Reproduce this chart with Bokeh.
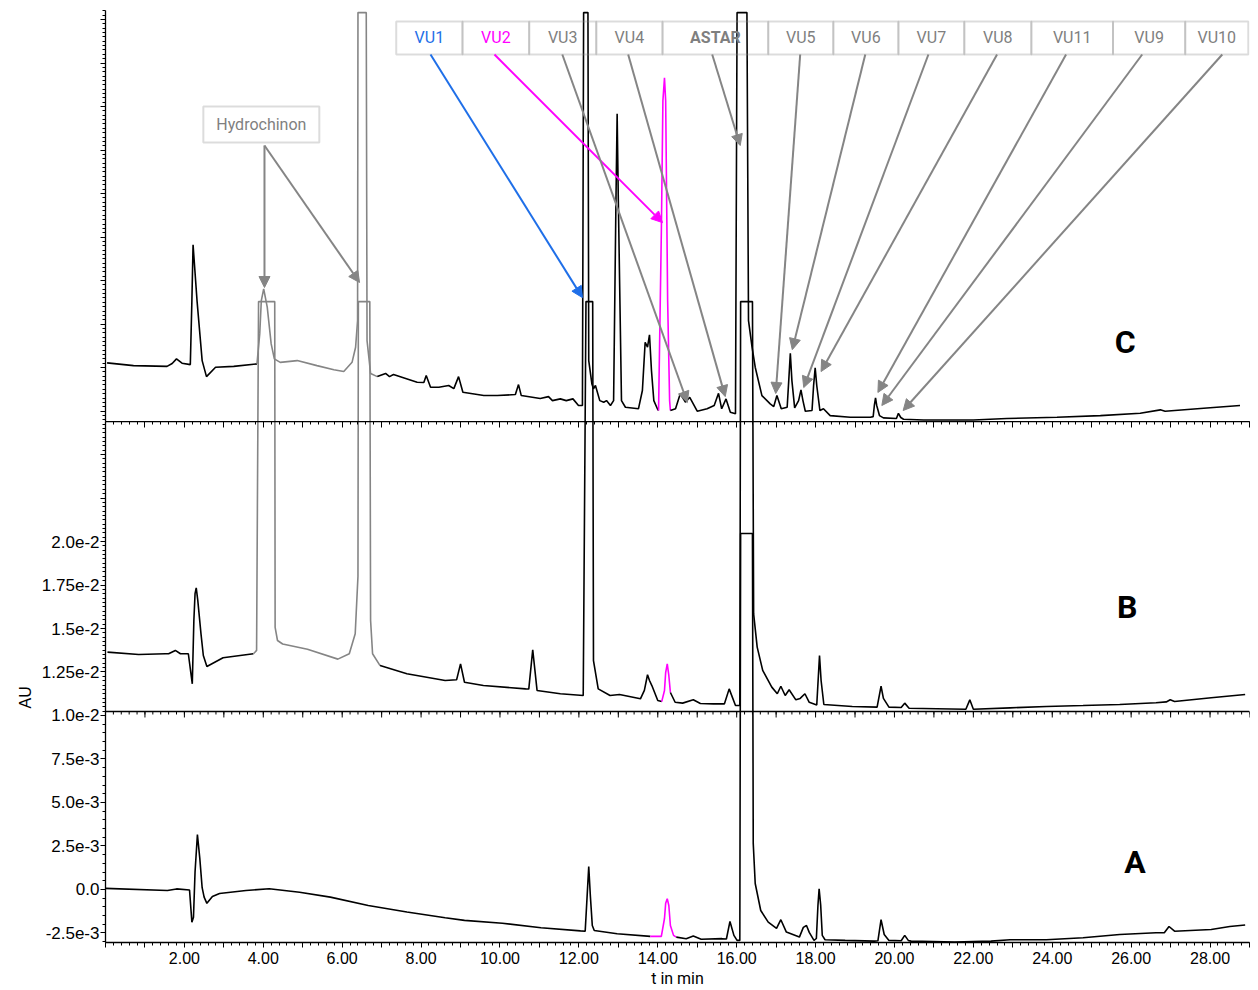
import numpy as np
from bokeh.plotting import figure
from bokeh.models import (ColumnDataSource, Range1d, LinearAxis, SingleIntervalTicker, FixedTicker,
                          CustomJSTickFormatter, BoxAnnotation, Label, Arrow, NormalHead, Grid, Title, Span)
from bokeh.layouts import column
from bokeh.embed import file_html
from bokeh.resources import INLINE

MAU = 1e-3  # values below are read in mAU off the common AU axis

# ---------------- chromatogram traces: (time in min, absorbance in mAU) ----------------
trace_A = [(0.00, 0.06), (1.57, -0.06), (1.80, 0.03), (2.13, -0.03), (2.19, -1.88), (2.23, -1.60),
           (2.27, 1.00), (2.33, 3.16), (2.39, 1.80), (2.45, 0.10), (2.50, -0.44), (2.57, -0.80),
           (2.71, -0.40), (2.89, -0.23), (3.56, -0.06), (4.15, 0.04), (4.92, -0.16), (5.70, -0.44),
           (6.66, -0.92), (7.64, -1.30), (8.61, -1.63), (9.10, -1.78), (10.06, -1.94), (11.04, -2.20),
           (12.04, -2.38), (12.16, -2.40), (12.21, -0.34), (12.25, 1.32), (12.29, -0.34), (12.34, -2.07),
           (12.39, -2.36), (12.97, -2.55), (13.81, -2.70), (14.09, -2.70), (14.17, -1.67), (14.20, -0.80),
           (14.24, -0.53), (14.28, -0.92), (14.32, -2.07), (14.40, -2.64), (14.47, -2.74), (14.72, -2.83),
           (14.90, -2.67), (15.10, -2.86), (15.63, -2.83), (15.74, -2.85), (15.83, -1.84), (15.93, -2.64),
           (16.01, -2.93), (16.08, -2.93), (16.10, 20.46), (16.40, 20.46), (16.42, 2.64), (16.47, 0.34),
           (16.61, -1.21), (16.80, -1.88), (17.01, -2.24), (17.12, -1.74), (17.26, -2.45), (17.59, -2.74),
           (17.69, -2.18), (17.77, -2.07), (17.84, -2.47), (17.96, -2.93), (18.02, -2.82), (18.06, -0.92),
           (18.09, 0.04), (18.13, -0.92), (18.17, -2.64), (18.24, -2.89), (18.75, -2.93), (19.49, -2.97),
           (19.58, -2.95), (19.66, -1.74), (19.74, -2.59), (19.86, -2.93), (20.17, -2.95), (20.26, -2.64),
           (20.35, -2.93), (20.42, -2.97), (21.53, -3.03), (22.45, -2.97), (22.93, -2.89), (23.85, -2.89),
           (24.78, -2.78), (25.71, -2.59), (26.63, -2.49), (26.84, -2.49), (26.96, -2.13), (27.10, -2.40),
           (28.03, -2.30), (28.50, -2.13), (28.89, -2.04)]

trace_B = [(0.05, 13.64), (0.84, 13.51), (1.52, 13.55), (1.60, 13.55), (1.77, 13.74), (1.90, 13.55),
           (2.10, 13.55), (2.20, 11.82), (2.24, 15.46), (2.27, 17.00), (2.30, 17.34), (2.34, 16.60),
           (2.42, 14.71), (2.48, 13.45), (2.57, 12.82), (2.98, 13.32), (3.75, 13.55), (3.83, 13.74),
           (3.88, 33.79), (4.29, 33.79), (4.30, 15.06), (4.36, 14.31), (4.49, 14.11), (5.12, 13.81),
           (5.89, 13.24), (6.18, 13.55), (6.33, 14.70), (6.40, 18.00), (6.41, 33.79), (6.70, 33.79),
           (6.72, 15.46), (6.77, 13.55), (6.96, 12.87), (7.64, 12.40), (8.61, 12.01), (8.90, 12.05),
           (9.00, 12.97), (9.10, 11.91), (9.58, 11.72), (10.65, 11.53), (10.73, 11.52), (10.83, 13.78),
           (10.94, 11.44), (11.53, 11.25), (12.11, 11.15), (12.18, 33.79), (12.35, 33.79), (12.37, 13.16),
           (12.49, 11.53), (12.79, 11.15), (13.03, 11.21), (13.56, 10.96), (13.66, 11.44), (13.74, 12.34),
           (13.79, 12.01), (13.85, 11.72), (14.00, 10.86), (14.10, 10.80), (14.17, 11.44), (14.20, 12.47),
           (14.24, 12.97), (14.28, 12.30), (14.32, 11.32), (14.44, 10.76), (14.63, 10.71), (14.90, 10.90),
           (15.08, 10.69), (15.41, 10.67), (15.69, 10.67), (15.81, 11.53), (15.97, 10.57), (16.08, 10.57),
           (16.10, 33.79), (16.40, 33.79), (16.43, 15.84), (16.52, 13.93), (16.66, 12.59), (16.89, 11.63),
           (17.03, 11.25), (17.12, 11.68), (17.23, 11.15), (17.33, 11.48), (17.50, 10.90), (17.61, 10.98),
           (17.73, 11.25), (17.84, 10.76), (18.03, 10.60), (18.10, 13.45), (18.14, 12.01), (18.21, 10.63),
           (18.93, 10.52), (19.56, 10.48), (19.66, 11.68), (19.72, 10.98), (19.86, 10.48), (20.17, 10.46),
           (20.26, 10.71), (20.37, 10.42), (21.07, 10.39), (21.81, 10.36), (21.91, 10.90), (22.00, 10.36),
           (22.93, 10.44), (23.85, 10.52), (24.78, 10.57), (25.71, 10.63), (26.63, 10.73), (26.89, 10.78),
           (26.99, 10.90), (27.10, 10.80), (28.03, 11.02), (28.89, 11.21)]

trace_C = [(0.04, 30.27), (0.71, 30.11), (1.56, 30.07), (1.69, 30.23), (1.80, 30.50), (1.94, 30.25),
           (2.15, 30.17), (2.19, 33.85), (2.22, 37.05), (2.32, 33.85), (2.45, 30.40), (2.56, 29.48),
           (2.79, 30.02), (3.25, 30.07), (3.84, 30.21), (3.91, 31.95), (3.95, 33.85), (4.01, 34.52),
           (4.10, 33.47), (4.20, 31.36), (4.28, 30.50), (4.43, 30.30), (4.86, 30.40), (5.36, 30.11),
           (5.79, 29.87), (6.04, 29.77), (6.25, 30.30), (6.34, 31.17), (6.39, 32.70), (6.40, 50.40),
           (6.61, 50.40), (6.63, 31.55), (6.72, 29.66), (6.89, 29.48), (7.10, 29.66), (7.20, 29.48),
           (7.30, 29.60), (7.90, 29.16), (8.07, 29.14), (8.13, 29.54), (8.24, 28.87), (8.45, 28.87),
           (8.70, 28.97), (8.83, 28.79), (8.95, 29.48), (9.06, 28.58), (9.59, 28.39), (9.93, 28.39),
           (10.39, 28.45), (10.47, 29.02), (10.54, 28.39), (11.02, 28.22), (11.23, 28.33), (11.33, 28.10),
           (11.53, 28.20), (11.68, 28.10), (11.85, 28.20), (11.99, 27.82), (12.09, 27.82), (12.12, 50.40),
           (12.23, 50.40), (12.25, 30.40), (12.33, 29.06), (12.37, 28.78), (12.42, 28.97), (12.53, 28.10),
           (12.63, 28.01), (12.70, 28.10), (12.80, 27.82), (12.88, 28.10), (12.94, 39.60), (12.97, 44.58),
           (13.00, 39.60), (13.08, 28.10), (13.18, 27.72), (13.51, 27.63), (13.61, 28.68), (13.68, 31.45),
           (13.74, 31.17), (13.79, 31.88), (13.84, 29.83), (13.90, 28.10), (13.99, 27.63), (14.02, 27.53),
           (14.09, 37.70), (14.13, 45.34), (14.17, 46.65), (14.20, 45.34), (14.25, 33.85), (14.30, 28.10),
           (14.32, 27.53), (14.45, 27.63), (14.57, 28.49), (14.70, 28.01), (14.81, 28.29), (15.00, 27.49),
           (15.25, 27.63), (15.43, 27.82), (15.54, 28.52), (15.62, 27.63), (15.73, 28.20), (15.84, 27.43),
           (15.97, 27.34), (16.01, 50.40), (16.26, 50.40), (16.30, 32.70), (16.39, 31.17), (16.47, 30.02),
           (16.64, 28.39), (16.85, 27.91), (16.94, 27.76), (17.02, 28.39), (17.13, 27.63), (17.28, 27.72),
           (17.32, 29.25), (17.36, 30.82), (17.40, 29.25), (17.47, 27.68), (17.57, 28.10), (17.63, 28.72),
           (17.68, 28.10), (17.74, 27.49), (17.91, 27.53), (17.95, 28.97), (17.99, 29.98), (18.03, 28.97),
           (18.11, 27.53), (18.20, 27.63), (18.37, 27.24), (18.88, 27.14), (19.39, 27.14), (19.46, 27.18),
           (19.49, 27.82), (19.52, 28.26), (19.55, 27.82), (19.62, 27.24), (19.72, 27.11), (20.05, 27.07),
           (20.10, 27.37), (20.16, 27.13), (20.23, 27.03), (20.74, 26.99), (22.00, 26.99), (22.85, 27.07),
           (24.12, 27.14), (25.22, 27.24), (26.23, 27.37), (26.74, 27.57), (26.86, 27.49), (27.92, 27.68),
           (28.76, 27.82)]

# coloured stretches of each trace: (from min, to min, colour key); the joins to the
# neighbouring points are drawn in the same colour
highlight_A = [(14.00, 14.42, "vu2")]
highlight_B = [(3.80, 6.80, "hydro"), (14.15, 14.30, "vu2")]
highlight_C = [(3.88, 6.75, "hydro"), (14.05, 14.31, "vu2")]

# peak labels (top row) and the peaks they point at
box_labels = ["VU1", "VU2", "VU3", "VU4", "ASTAR", "VU5", "VU6", "VU7", "VU8", "VU11", "VU9", "VU10"]
box_edges = [7.37, 9.05, 10.74, 12.44, 14.12, 16.80, 18.45, 20.10, 21.77, 23.47, 25.54, 27.37, 28.97]
box_bottom, box_top = 47.99, 49.89
arrow_start_t = [8.24, 9.86, 11.58, 13.25, 15.38, 17.61, 19.26, 20.86, 22.60, 24.35, 26.28, 28.31]
arrow_end = [(12.09, 34.02), (14.12, 38.33), (14.75, 27.99), (15.71, 28.33), (16.09, 42.76), (16.99, 28.51),
             (17.41, 31.03), (17.70, 28.85), (18.14, 29.77), (19.58, 28.57), (19.68, 27.82), (20.22, 27.53)]
hydro_box = (2.48, 5.42, 42.93, 45.00)
hydro_arrow_start = (4.03, 42.76)
hydro_arrow_ends = [(4.03, 34.60), (6.44, 34.89)]
panel_letters = [("C", 25.85, 31.49), ("B", 25.90, 16.26), ("A", 26.10, 1.55)]

# panel windows on the common AU axis (mAU): C on top, B and A share the lower plot
panel_C = (26.90, 50.52)
panel_BA = (-3.05, 26.90)
split_BA = 10.23   # level of the separator line between panels B and A

# ---------------- styling ----------------
BLACK = "#000000"
COLORS = {"hydro": "#858585", "vu2": "#ff00ff"}
BLUE = "#1f6fe8"
BOX_GREY = "#8c8c8c"
TEXT_GREY = "#7f7f7f"


def segments(points, windows):
    t = np.array([p[0] for p in points])
    y = np.array([p[1] for p in points]) * MAU
    col = np.array([BLACK] * len(t), dtype=object)
    for lo, hi, key in windows:
        col[(t >= lo) & (t <= hi)] = COLORS[key]
    xs, ys, cs = [], [], []
    i, n = 0, len(t)
    while i < n:
        j = i
        while j + 1 < n and col[j + 1] == col[i]:
            j += 1
        if col[i] == BLACK:
            a, b = i, j
        else:
            a, b = max(i - 1, 0), min(j + 1, n - 1)
        if b > a:
            xs.append(list(t[a:b + 1]))
            ys.append(list(y[a:b + 1]))
            cs.append(col[i])
        i = j + 1
    return xs, ys, cs


all_xs, all_ys, all_cs = [], [], []
for pts, win in [(trace_A, highlight_A), (trace_B, highlight_B), (trace_C, highlight_C)]:
    xs, ys, cs = segments(pts, win)
    all_xs += xs
    all_ys += ys
    all_cs += cs
trace_src = ColumnDataSource(dict(xs=all_xs, ys=all_ys, color=all_cs))

Y_FMT = """
if (Math.abs(tick) < 1e-12) return "0.0";
if (tick > 0.02001) return "";
const e = Math.floor(Math.log10(Math.abs(tick)) + 1e-9);
const m = tick / Math.pow(10, e);
const r1 = Math.round(m * 10) / 10;
const s = (Math.abs(m - r1) < 1e-6) ? r1.toFixed(1) : m.toFixed(2);
return s + "e" + e;
"""
X_FMT = """
return (tick > 0.5 && Math.round(tick) % 2 === 0) ? tick.toFixed(2) : "";
"""

x_range = Range1d(0, 29.0)


def base_axis_style(ax, size="16px"):
    ax.axis_line_color = "black"
    ax.axis_line_width = 1.3
    ax.major_tick_line_color = "black"
    ax.minor_tick_line_color = "black"
    ax.major_label_text_font = "Liberation Sans"
    ax.major_label_text_font_size = size
    ax.major_label_text_color = "black"


def x_ticker():
    return SingleIntervalTicker(interval=1, num_minor_ticks=5)


def make_panel(y_lo, y_hi, frame_h, top, yticker, sep_above, bottom_axis):
    p = figure(x_range=x_range, y_range=Range1d(y_lo * MAU, y_hi * MAU),
               frame_width=1144, frame_height=frame_h,
               output_backend="svg", toolbar_location=None,
               x_axis_location=None, y_axis_location=None,
               min_border_left=105, min_border_right=6, min_border_top=top, min_border_bottom=0,
               background_fill_color="white", border_fill_color="white", outline_line_color=None)
    p.center = [r for r in p.center if not isinstance(r, Grid)]

    yax = LinearAxis(ticker=yticker, formatter=CustomJSTickFormatter(code=Y_FMT))
    base_axis_style(yax, "17px")
    yax.major_tick_in = 0
    yax.major_tick_out = 5
    yax.minor_tick_in = 0
    yax.minor_tick_out = 3
    yax.major_label_standoff = 1
    p.add_layout(yax, "left")

    if sep_above:
        sep = LinearAxis(ticker=x_ticker(), formatter=CustomJSTickFormatter(code="return '';"))
        base_axis_style(sep)
        sep.major_label_text_font_size = "0px"
        sep.major_label_standoff = 0
        sep.major_tick_in = 6
        sep.major_tick_out = 0
        sep.minor_tick_in = 3
        sep.minor_tick_out = 0
        p.add_layout(sep, "above")

    if bottom_axis:
        bot = LinearAxis(ticker=x_ticker(), formatter=CustomJSTickFormatter(code=X_FMT),
                         axis_label="t in min")
        base_axis_style(bot)
        bot.major_tick_in = 0
        bot.major_tick_out = 5
        bot.minor_tick_in = 0
        bot.minor_tick_out = 3
        bot.major_label_standoff = 4
        bot.axis_label_text_font = "Roboto"
        bot.axis_label_text_font_size = "16px"
        bot.axis_label_text_font_style = "normal"
        bot.axis_label_text_color = "black"
        bot.axis_label_standoff = 2
        p.add_layout(bot, "below")

    p.multi_line("xs", "ys", line_color="color", line_width=1.6, source=trace_src)
    return p


# y tickers: majors every 2.5e-3 AU; finer minor ticks above the B/A separator than below it
ticker_C = SingleIntervalTicker(interval=2.5 * MAU, num_minor_ticks=10)
major_BA = [k * 2.5 * MAU for k in range(-1, 11)]
minor_BA = ([v * MAU for v in np.arange(-3.0, split_BA, 0.5)] +
            [v * MAU for v in np.arange(10.25, panel_BA[1], 0.25)])
ticker_BA = FixedTicker(ticks=major_BA, minor_ticks=minor_BA)

pC = make_panel(panel_C[0], panel_C[1], 411, 10, ticker_C, False, False)
pBA = make_panel(panel_BA[0], panel_BA[1], 521, 0, ticker_BA, True, True)

# separator line between panels B and A, with downward ticks matching the time axis
pBA.add_layout(Span(location=split_BA * MAU, dimension="width", line_color="black", line_width=1.3))
minor_t = np.arange(0, 29.001, 0.2)
major_t = np.arange(0, 29.001, 1.0)
pBA.ray(x=minor_t, y=[split_BA * MAU] * len(minor_t), length=3, length_units="screen",
        angle=-np.pi / 2, line_color="black", line_width=1)
pBA.ray(x=major_t, y=[split_BA * MAU] * len(major_t), length=6, length_units="screen",
        angle=-np.pi / 2, line_color="black", line_width=1)

# panel letters
for (letter, lt, ly), p in zip(panel_letters, [pC, pBA, pBA]):
    p.add_layout(Label(x=lt, y=ly * MAU, text=letter, text_align="center", text_baseline="middle",
                       text_font="Roboto", text_font_size="32px", text_font_style="bold",
                       text_color="black"))

# y axis title (vertical, just above the B/A separator)
pBA.add_layout(Title(text="AU", align="left", offset=234, text_font="Liberation Sans",
                     text_font_size="16px", text_font_style="normal", text_color="black"), "left")

# label boxes with arrows
for i, name in enumerate(box_labels):
    left, right = box_edges[i], box_edges[i + 1]
    pC.add_layout(BoxAnnotation(left=left, right=right, bottom=box_bottom * MAU, top=box_top * MAU,
                                fill_color=None, fill_alpha=0, line_color=BOX_GREY, line_width=2))
    if name == "VU1":
        tc, ac = BLUE, BLUE
    elif name == "VU2":
        tc, ac = COLORS["vu2"], COLORS["vu2"]
    else:
        tc, ac = TEXT_GREY, "#858585"
    pC.add_layout(Label(x=(left + right) / 2, y=(box_bottom + box_top) / 2 * MAU, text=name,
                        text_align="center", text_baseline="middle", text_font="Roboto",
                        text_font_size="16px", text_color=tc,
                        text_font_style="bold" if name == "ASTAR" else "normal"))
    ex, ey = arrow_end[i]
    pC.add_layout(Arrow(x_start=arrow_start_t[i], y_start=box_bottom * MAU, x_end=ex, y_end=ey * MAU,
                        line_color=ac, line_width=2,
                        end=NormalHead(size=11, fill_color=ac, line_color=ac)))

hl, hr, hb, ht = hydro_box
pC.add_layout(BoxAnnotation(left=hl, right=hr, bottom=hb * MAU, top=ht * MAU,
                            fill_color=None, fill_alpha=0, line_color=BOX_GREY, line_width=2))
pC.add_layout(Label(x=(hl + hr) / 2, y=(hb + ht) / 2 * MAU, text="Hydrochinon", text_align="center",
                    text_baseline="middle", text_font="Roboto", text_font_size="16px", text_color=TEXT_GREY))
for ex, ey in hydro_arrow_ends:
    pC.add_layout(Arrow(x_start=hydro_arrow_start[0], y_start=hydro_arrow_start[1] * MAU,
                        x_end=ex, y_end=ey * MAU, line_color="#858585", line_width=2,
                        end=NormalHead(size=11, fill_color="#858585", line_color="#858585")))

layout = column(pC, pBA)
open("out.html", "w").write(file_html(layout, INLINE))
